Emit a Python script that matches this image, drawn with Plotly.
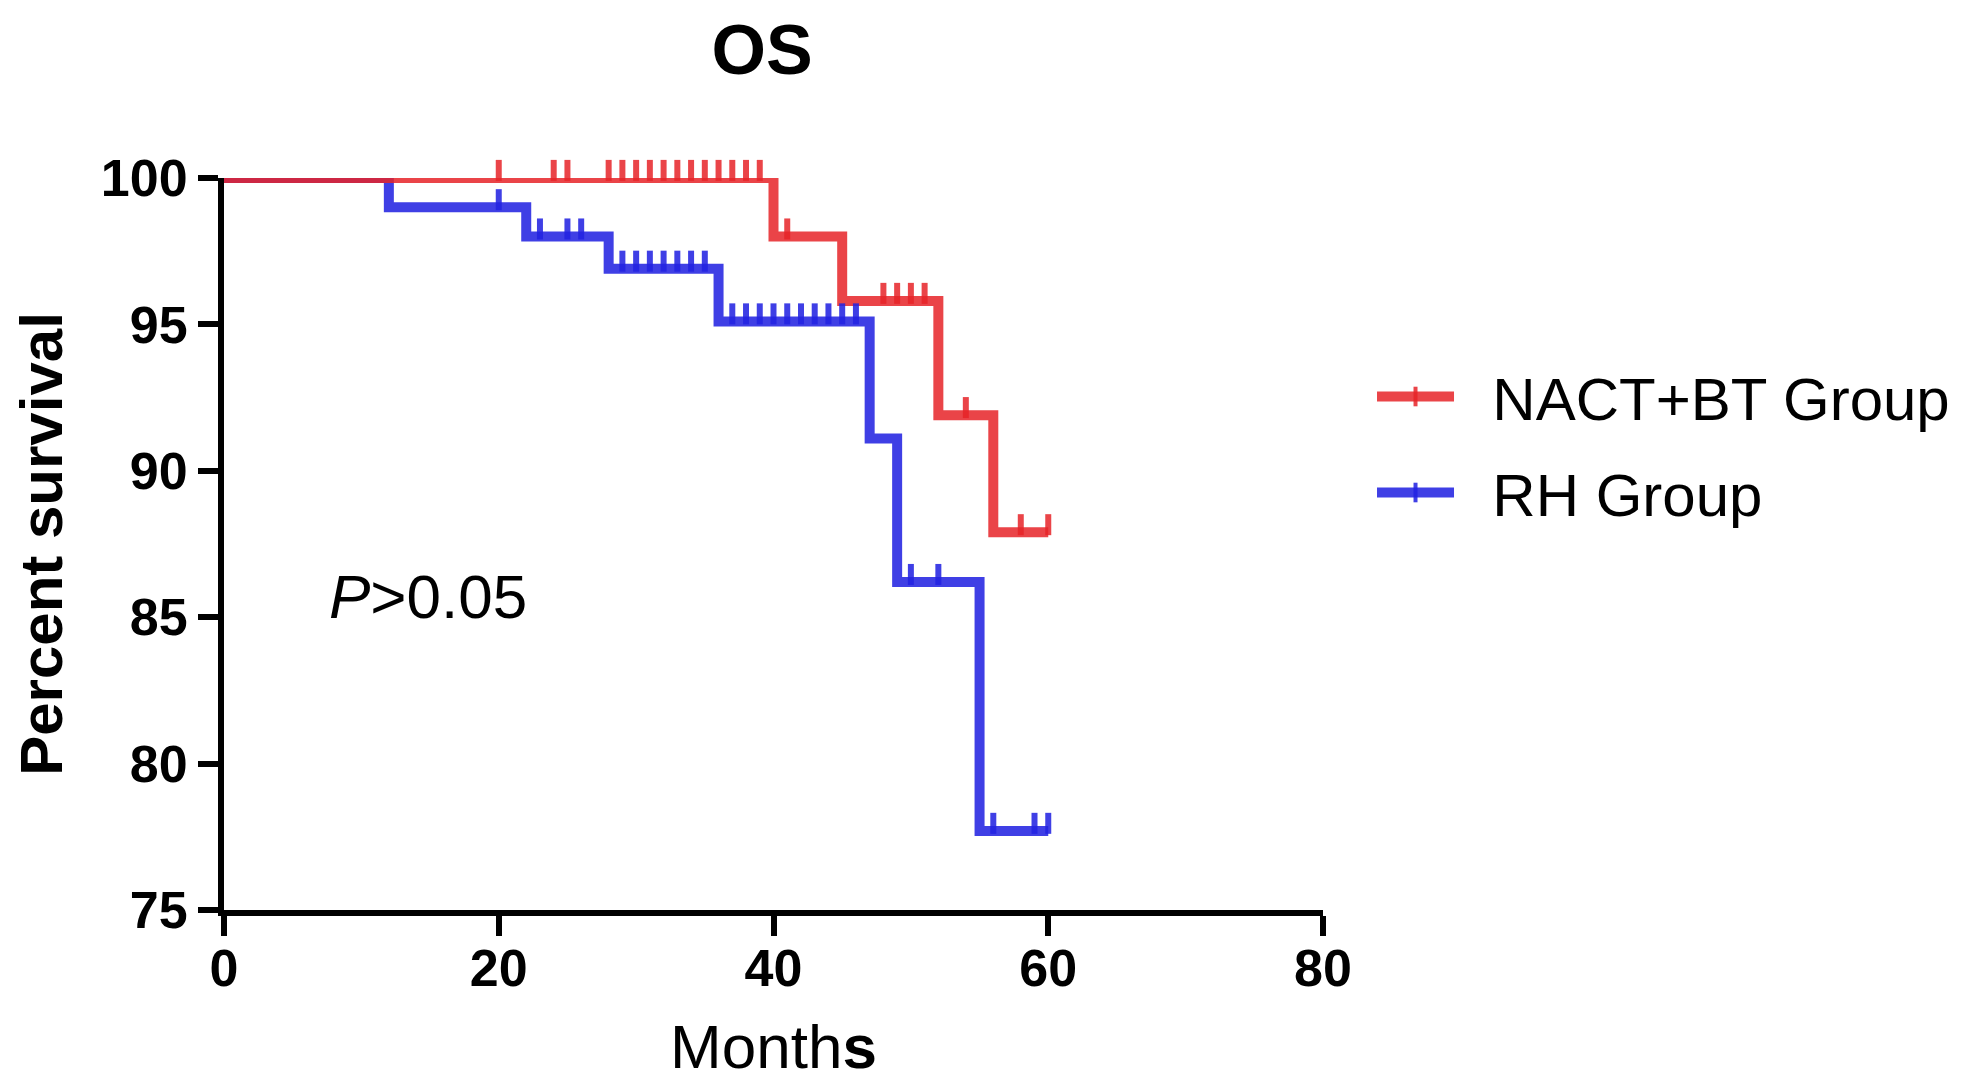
import plotly.graph_objects as go

# Kaplan-Meier step data (months, percent survival)
nact_times = [0, 40, 45, 52, 56, 60]
nact_surv = [100, 98.0, 95.8, 91.9, 87.9, 87.9]
nact_censored = [20, 24, 25, 28, 29, 30, 31, 32, 33, 34, 35, 36, 37, 38, 39,
                 41, 48, 49, 50, 51, 54, 58, 60]

rh_times = [0, 12, 22, 28, 36, 47, 49, 55, 60]
rh_surv = [100, 99.0, 98.0, 96.9, 95.1, 91.1, 86.2, 77.7, 77.7]
rh_censored = [20, 23, 25, 26, 29, 30, 31, 32, 33, 34, 35,
               37, 38, 39, 40, 41, 42, 43, 44, 45, 46, 50, 52, 56, 59, 60]

x_ticks = [0, 20, 40, 60, 80]
y_ticks = [75, 80, 85, 90, 95, 100]
y_range = [75, 100]

RED = 'rgba(230, 35, 40, 0.85)'
BLUE = 'rgba(35, 35, 225, 0.87)'
FONT = 'Arial, Liberation Sans, sans-serif'
NBSP = '\u00a0'

# plot box in pixels
W, H = 1969, 1080
TOP_AXIS, BOTTOM_AXIS = 170, 902
TOP_MARGIN = 150  # a little room above the axis so censor ticks at 100% show
TICK_LIFT = 0.26  # censor ticks sit on top of the curve (data units)

y_dom_top = (BOTTOM_AXIS - TOP_AXIS) / (BOTTOM_AXIS - TOP_MARGIN)
y2_top = y_range[0] + (y_range[1] - y_range[0]) / y_dom_top


def surv_at(times, surv, t):
    # value of the step function at time t
    val = surv[0]
    for ti, si in zip(times, surv):
        if ti <= t:
            val = si
    return val


fig = go.Figure()

# blue first so the red curve lies on top, as in the original
groups = [
    ('RH Group', rh_times, rh_surv, rh_censored, BLUE, 2),
    ('NACT+BT Group', nact_times, nact_surv, nact_censored, RED, 1),
]

for name, times, surv, cens, col, rank in groups:
    fig.add_trace(go.Scatter(
        x=times, y=surv, mode='lines', line=dict(color=col, width=10, shape='hv'),
        name=name, legendgroup=name, showlegend=False))
    fig.add_trace(go.Scatter(
        x=cens, y=[surv_at(times, surv, c) + TICK_LIFT for c in cens], yaxis='y2',
        mode='markers', cliponaxis=False,
        marker=dict(symbol='line-ns', size=15, line=dict(color=col, width=6)),
        name=name, legendgroup=name, showlegend=False))
    # legend entry only
    fig.add_trace(go.Scatter(
        x=[None], y=[None], mode='lines+markers', name=NBSP * 2 + name,
        legendgroup=name, legendrank=rank,
        line=dict(color=col, width=10),
        marker=dict(symbol='line-ns', size=14, line=dict(color=col, width=4))))

fig.add_annotation(
    x=7.5, y=85.7, xref='x', yref='y', xanchor='left', yanchor='middle',
    text='<i>P</i>&gt;0.05', showarrow=False,
    font=dict(family=FONT, size=62, color='black'))

fig.update_layout(
    width=W, height=H,
    margin=dict(l=216, r=W - 1315, t=TOP_MARGIN, b=H - BOTTOM_AXIS),
    paper_bgcolor='white', plot_bgcolor='rgba(0,0,0,0)',
    font=dict(family=FONT, color='black'),
    title=dict(text='<b>OS</b>', x=0.383, xanchor='center', y=0.962, yanchor='middle',
               font=dict(family=FONT, size=70, color='black')),
    legend=dict(x=1.0446, y=0.619, xanchor='left', yanchor='middle',
                font=dict(family=FONT, size=60, color='black'),
                tracegroupgap=15, itemwidth=77, bgcolor='rgba(0,0,0,0)'),
    xaxis=dict(range=[0, 80], tickvals=x_ticks, showgrid=False, zeroline=False,
               showline=True, linecolor='black', linewidth=6,
               ticks='outside', ticklen=20, tickwidth=6, tickcolor='black',
               ticklabelstandoff=-12,
               tickfont=dict(family=FONT, size=52, weight=700),
               title=dict(text='Month<b>s</b>', standoff=30,
                          font=dict(family=FONT, size=62))),
    yaxis=dict(range=y_range, domain=[0, y_dom_top], tickvals=y_ticks,
               showgrid=False, zeroline=False,
               showline=True, linecolor='black', linewidth=6,
               ticks='outside', ticklen=20, tickwidth=6, tickcolor='black',
               tickfont=dict(family=FONT, size=52, weight=700),
               title=dict(text='<b>Percent survival</b>', standoff=25,
                          font=dict(family=FONT, size=60))),
    yaxis2=dict(range=[y_range[0], y2_top], domain=[0, 1], anchor='x',
                visible=False, showgrid=False, zeroline=False, fixedrange=True),
)

fig.write_html("out.html")
